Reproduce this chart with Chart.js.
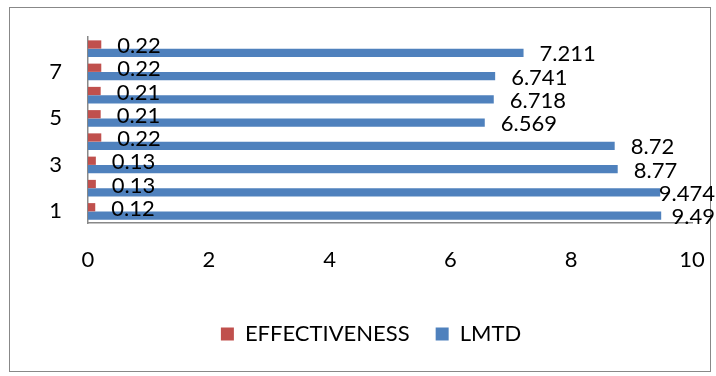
<!DOCTYPE html>
<html>
<head>
<meta charset="utf-8">
<script src="https://cdn.jsdelivr.net/npm/chart.js@4/dist/chart.umd.min.js"></script>
<style>
  body { margin: 0; background: #fff; }
  .box {
    position: absolute;
    left: 9px;
    top: 7px;
    width: 700px;
    height: 363px;
    border: 1.5px solid #888;
  }
  #myChart {
    position: absolute;
    left: 10px;
    top: 8px;
  }
</style>
</head>
<body>
<div class="box"></div>
<canvas id="myChart" width="706" height="363"></canvas>
<script>
const categories = ["1", "2", "3", "4", "5", "6", "7", "8"];
const effectiveness = [0.12, 0.13, 0.13, 0.22, 0.21, 0.21, 0.22, 0.22];
const lmtd = [9.49, 9.474, 8.77, 8.72, 6.569, 6.718, 6.741, 7.211];
const xTicks = [0, 2, 4, 6, 8, 10];

const FONT = "Lato";

// values written out to the right of each bar, pulled back in when they
// would run past the right edge (like Excel does)
const barLabels = {
  id: "barLabels",
  afterDatasetsDraw(chart) {
    const ctx = chart.ctx;
    ctx.save();
    ctx.font = "22px " + FONT;
    ctx.fillStyle = "#000";
    ctx.textAlign = "left";
    ctx.textBaseline = "middle";
    chart.data.datasets.forEach((ds, di) => {
      const meta = chart.getDatasetMeta(di);
      meta.data.forEach((bar, i) => {
        const txt = String(ds.data[i]);
        const w = ctx.measureText(txt).width;
        const x = Math.min(bar.x + 16, chart.width - w - 1);
        ctx.fillText(txt, x, bar.y + 1.5);
      });
    });
    ctx.restore();
  },
};

const canvas = document.getElementById("myChart").getContext("2d");
const myChart = new Chart(canvas, {
  type: "bar",
  data: {
    labels: categories,
    datasets: [
      {
        label: "EFFECTIVENESS",
        data: effectiveness,
        backgroundColor: "#C0504D",
        borderWidth: 0,
      },
      {
        label: "LMTD",
        data: lmtd,
        backgroundColor: "#4F81BD",
        borderWidth: 0,
      },
    ],
  },
  options: {
    indexAxis: "y",
    responsive: false,
    animation: false,
    layout: {
      padding: { left: 40, right: 24, top: 29, bottom: 16 },
    },
    datasets: {
      bar: { categoryPercentage: 0.71, barPercentage: 1.0 },
    },
    scales: {
      x: {
        min: 0,
        max: 10,
        afterBuildTicks: (s) => {
          s.ticks = xTicks.map((v) => ({ value: v }));
        },
        afterFit: (s) => {
          s.height = 74;
          s.paddingLeft = 0;
          s.paddingRight = 0;
        },
        grid: { display: false, drawTicks: false, tickLength: 0 },
        border: { display: true, color: "#888", width: 1.5 },
        ticks: {
          padding: 24,
          color: "#000",
          font: { family: FONT, size: 22 },
        },
      },
      y: {
        reverse: true,
        afterFit: (s) => {
          s.width = 38;
          s.paddingTop = 0;
          s.paddingBottom = 0;
        },
        grid: { display: false, drawTicks: false, tickLength: 0 },
        border: { display: true, color: "#888", width: 1.5 },
        ticks: {
          autoSkip: false,
          padding: 26,
          color: "#000",
          font: { family: FONT, size: 22 },
          callback: function (val, idx) {
            return idx % 2 === 0 ? this.getLabelForValue(val) : "";
          },
        },
      },
    },
    plugins: {
      tooltip: { enabled: false },
      legend: {
        position: "bottom",
        labels: {
          boxWidth: 13,
          boxHeight: 13,
          padding: 26,
          color: "#000",
          font: { family: FONT, size: 22 },
        },
      },
    },
  },
  plugins: [barLabels],
});
</script>
</body>
</html>
